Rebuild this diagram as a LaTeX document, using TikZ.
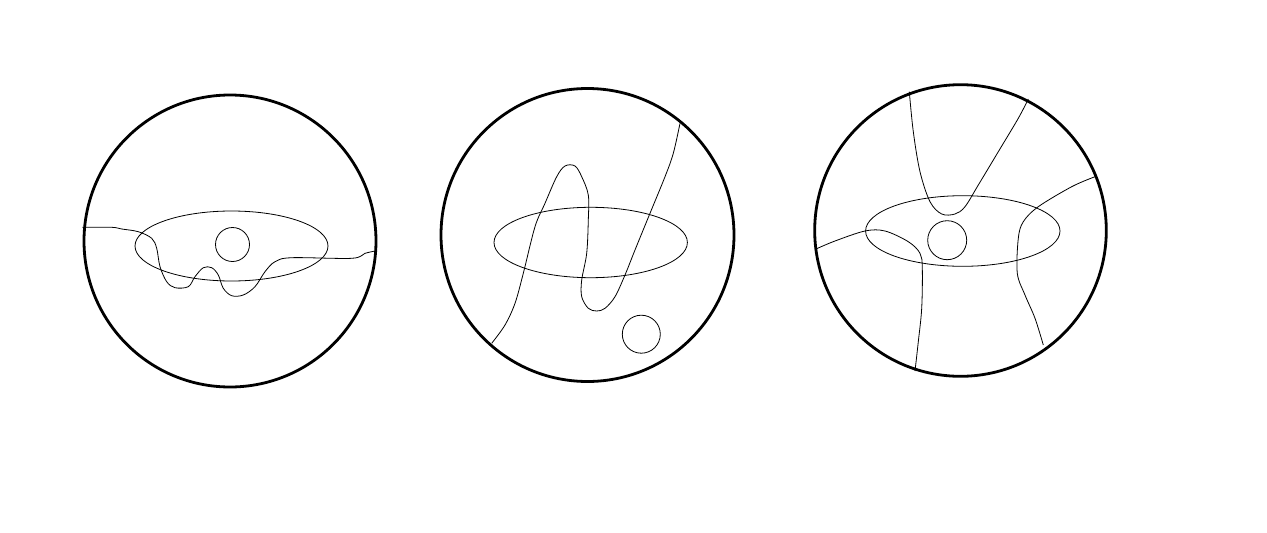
\documentclass[tikz,border=0pt]{standalone}
\usepackage{tikz}
\tikzset{
  rim/.style={draw=black, line width=2.8pt},
  disc/.style={draw=black, line width=0.8pt},
  strand/.style={draw=black, line width=0.8pt, smooth, tension=0.55},
}
\begin{document}
\begin{tikzpicture}[x=1pt, y=-1pt]
  \useasboundingbox (0,0) rectangle (1267,533);
  \draw[rim] (230,241) circle (146);
  \draw[disc] (231.5,246) ellipse (96.5 and 35);
  \draw[disc] (232.5,244.5) circle (17);
  \draw[strand] plot coordinates {(82.3,227.3) (111.7,227.3) (121.7,229) (138.3,231.7) (151.7,238.3) (156.7,248.3) (160,266.7) (166.7,281.7) (175,287.7) (188.3,286.7) (195,276.7) (203.3,267.7) (211.7,267.7) (218.3,275) (223.3,288.3) (231.7,295.7) (243.3,295) (255,286.7) (265,271.7) (275,261.7) (291.7,257.7) (351.7,258.3) (365,253.3) (376.7,250.7)};
  \draw[rim] (587.5,235) circle (146.5);
  \draw[disc] (590.7,242.5) ellipse (96.7 and 35.2);
  \draw[disc] (641.3,334.2) circle (19);
  \draw[strand] plot coordinates {(491.7,343.3) (505,325) (515,303.3) (523.3,273.3) (535,226.7) (545,203.3) (556.7,176.7) (565,166) (575,166) (581.7,176.7) (588.3,195) (588.3,220) (586.7,253.3) (581.7,280) (581.7,296.7) (588.3,308.3) (596.7,311) (605,308.3) (615,296.7) (625,275) (635,250) (650,213.3) (665,176.7) (673.3,153.3) (680,123.3)};
  \draw[rim] (960.5,230.5) circle (145.8);
  \draw[disc] (962.8,231) ellipse (97.2 and 35.3);
  \draw[disc] (947.2,240.2) circle (19.5);
  \draw[strand] plot coordinates {(909.3,91.7) (913.3,131.7) (920,171.7) (930,201.7) (941.7,214) (955,214) (965,206.7) (978.3,185) (998.3,151.7) (1018.3,118.3) (1028.3,99)};
  \draw[strand] plot coordinates {(816,249) (835,241) (865,231) (885,231) (908.3,241.7) (920,253.3) (922.3,268.3) (921.7,308.3) (918.3,341.7) (915,371)};
  \draw[strand] plot coordinates {(1095,176.7) (1071.7,186.7) (1038.3,206.7) (1023.3,221.7) (1018.3,238.3) (1017.3,273.3) (1025,295) (1035,318.3) (1043.3,345)};
\end{tikzpicture}
\end{document}
